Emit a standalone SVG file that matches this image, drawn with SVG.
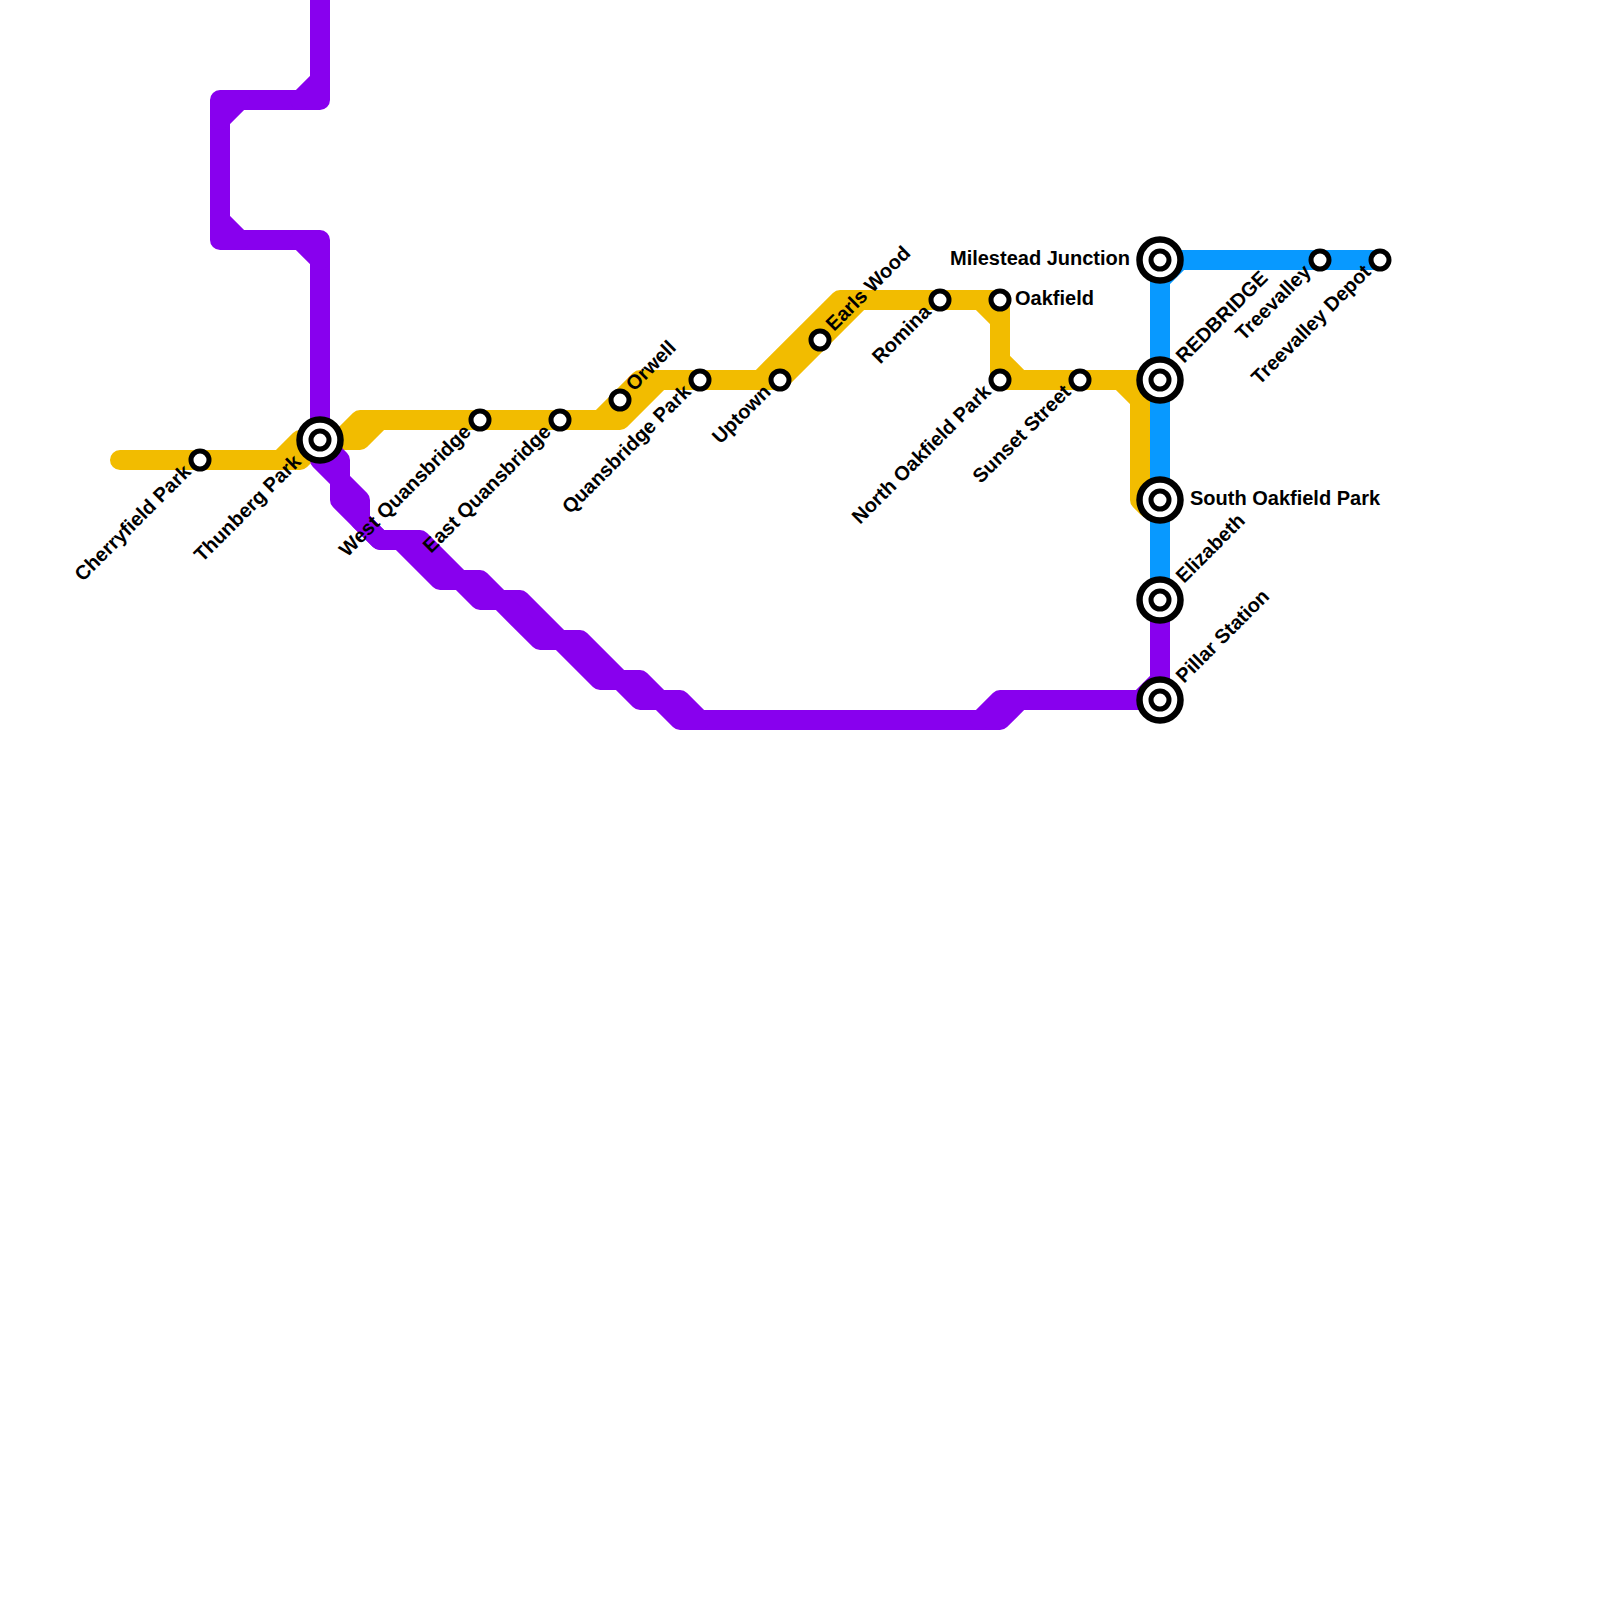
<svg xmlns="http://www.w3.org/2000/svg" width="1600" height="1600" viewBox="0 0 1600 1600">
<style>
.line{fill:none;stroke-width:20;stroke-linecap:round;stroke-linejoin:round}
.y{stroke:#f2bc00}.p{stroke:#8800ee}.b{stroke:#0899ff}
.st{fill:#fff;stroke:#000;stroke-width:5}
.ring{fill:#fff;stroke:#000;stroke-width:6.5}
text{font-family:"Liberation Sans",Arial,sans-serif;font-weight:700;font-size:20px;fill:#000}
.e{text-anchor:end}
</style>
<rect width="1600" height="1600" fill="#fff"/>
<g id="connectors">
<path class="line b" d="M1160,260V600M1160,260H1380M1160,280L1180,260"/>
<path class="line y" d="M120,460H300L320,440M280,460L300,440H360L380,420H620L660,380H780L860,300M340,440L360,420H380M600,420L640,380H760L840,300H1000V380M980,300L1000,320M1000,360L1020,380H1120L1140,400V500L1148,508M1000,380H1160"/>
<path class="line p" d="M320,-20V100H220V240H320V440L340,460V480L360,500V520L380,540H420L460,580H480L500,600H520L560,640H580L620,680H640L660,700H680L700,720H1000L1020,700H1160V600"/>
<path class="line p" d="M300,100L320,80M220,120L240,100M220,220L240,240M300,240L320,260M320,460L340,480V500L380,540H400L440,580H460L480,600H500L540,640H560L600,680H620L640,700H660L680,720H700M980,720L1000,700H1020M1140,700L1160,680"/>
</g>
<g id="n-cherryfield"><circle class="st" cx="200" cy="460" r="9"/><text class="e" transform="translate(192,473) rotate(-45)">Cherryfield Park</text></g>
<g id="n-thunberg"><circle class="ring" cx="320" cy="440" r="20.5"/><circle class="st" cx="320" cy="440" r="9"/><text class="e" transform="translate(302,463) rotate(-45)">Thunberg Park</text></g>
<g id="n-west-quansbridge"><circle class="st" cx="480" cy="420" r="9"/><text class="e" transform="translate(472,433) rotate(-45)">West Quansbridge</text></g>
<g id="n-east-quansbridge"><circle class="st" cx="560" cy="420" r="9"/><text class="e" transform="translate(552,433) rotate(-45)">East Quansbridge</text></g>
<g id="n-orwell"><circle class="st" cx="620" cy="400" r="9"/><text transform="translate(634,392) rotate(-45)">Orwell</text></g>
<g id="n-quansbridge-park"><circle class="st" cx="700" cy="380" r="9"/><text class="e" transform="translate(692,393) rotate(-45)">Quansbridge Park</text></g>
<g id="n-uptown"><circle class="st" cx="780" cy="380" r="9"/><text class="e" transform="translate(772,393) rotate(-45)">Uptown</text></g>
<g id="n-earls-wood"><circle class="st" cx="820" cy="340" r="9"/><text transform="translate(834,332) rotate(-45)">Earls Wood</text></g>
<g id="n-romina"><circle class="st" cx="940" cy="300" r="9"/><text class="e" transform="translate(932,313) rotate(-45)">Romina</text></g>
<g id="n-oakfield"><circle class="st" cx="1000" cy="300" r="9"/><text x="1015" y="305">Oakfield</text></g>
<g id="n-north-oakfield"><circle class="st" cx="1000" cy="380" r="9"/><text class="e" transform="translate(992,393) rotate(-45)">North Oakfield Park</text></g>
<g id="n-sunset"><circle class="st" cx="1080" cy="380" r="9"/><text class="e" transform="translate(1072,393) rotate(-45)">Sunset Street</text></g>
<g id="n-milestead"><circle class="ring" cx="1160" cy="260" r="20.5"/><circle class="st" cx="1160" cy="260" r="9"/><text class="e" x="1130" y="265">Milestead Junction</text></g>
<g id="n-redbridge"><circle class="ring" cx="1160" cy="380" r="20.5"/><circle class="st" cx="1160" cy="380" r="9"/><text transform="translate(1184,364) rotate(-45)">REDBRIDGE</text></g>
<g id="n-south-oakfield"><circle class="ring" cx="1160" cy="500" r="20.5"/><circle class="st" cx="1160" cy="500" r="9"/><text x="1190" y="505">South Oakfield Park</text></g>
<g id="n-elizabeth"><circle class="ring" cx="1160" cy="600" r="20.5"/><circle class="st" cx="1160" cy="600" r="9"/><text transform="translate(1184,584) rotate(-45)">Elizabeth</text></g>
<g id="n-pillar"><circle class="ring" cx="1160" cy="700" r="20.5"/><circle class="st" cx="1160" cy="700" r="9"/><text transform="translate(1184,684) rotate(-45)">Pillar Station</text></g>
<g id="n-treevalley"><circle class="st" cx="1320" cy="260" r="9"/><text class="e" transform="translate(1312,273) rotate(-45)">Treevalley</text></g>
<g id="n-treevalley-depot"><circle class="st" cx="1380" cy="260" r="9"/><text class="e" transform="translate(1372,273) rotate(-45)">Treevalley Depot</text></g>
</svg>
